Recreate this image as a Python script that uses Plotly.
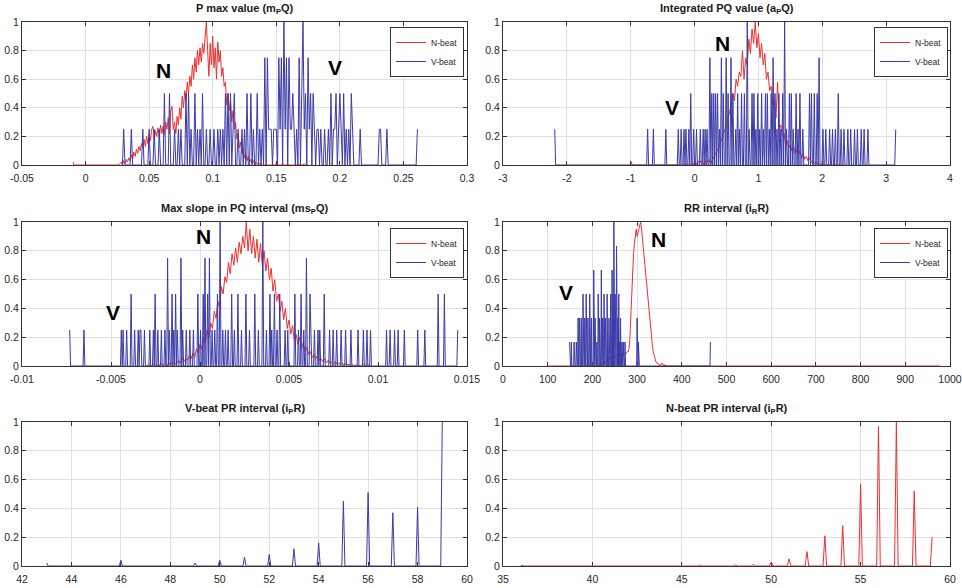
import numpy as np
import plotly.graph_objects as go

# ======================= DATA =======================
# Each histogram is given as (first bin, last bin, bin width) plus the
# non-empty bins. Empty bins are zero.

# ---- Panel 1: P max value (mPQ) ----
PMAX_XTICKS = [-0.05, 0, 0.05, 0.1, 0.15, 0.2, 0.25, 0.3]
PMAX_XLABELS = ["-0.05", "0", "0.05", "0.1", "0.15", "0.2", "0.25", "0.3"]
PMAX_N_BINS = (-0.010, 0.175, 0.001)
PMAX_N_START = 0.027
PMAX_N_VALUES = [
    0.01, 0.02, 0.00, 0.03, 0.01, 0.04, 0.02, 0.05, 0.03, 0.07,
    0.04, 0.09, 0.06, 0.11, 0.08, 0.13, 0.10, 0.15, 0.12, 0.18,
    0.13, 0.20, 0.15, 0.22, 0.17, 0.25, 0.27, 0.18, 0.24, 0.20,
    0.26, 0.19, 0.28, 0.22, 0.27, 0.21, 0.30, 0.25, 0.33, 0.22,
    0.38, 0.41, 0.25, 0.30, 0.22, 0.34, 0.28, 0.40, 0.32, 0.48,
    0.40, 0.52, 0.45, 0.58, 0.50, 0.62, 0.55, 0.70, 0.60, 0.75,
    0.65, 0.80, 0.70, 0.82, 0.72, 0.85, 0.78, 0.92, 1.00, 0.80,
    0.62, 0.85, 0.70, 0.90, 0.68, 0.82, 0.60, 0.86, 0.72, 0.80,
    0.62, 0.68, 0.55, 0.58, 0.42, 0.50, 0.38, 0.45, 0.30, 0.38,
    0.25, 0.30, 0.18, 0.22, 0.12, 0.16, 0.08, 0.12, 0.05, 0.08,
    0.03, 0.06, 0.02, 0.04, 0.01, 0.03, 0.00, 0.02, 0.01, 0.00,
    0.01, 0.00,
]
PMAX_N_EXTRA_X = [-0.010, 0.150, 0.172]
PMAX_N_EXTRA_Y = [0.02, 0.01, 0.01]
PMAX_V_BINS = (0.029, 0.261, 0.001)
PMAX_V_X = [
    0.030, 0.036, 0.045, 0.050, 0.054, 0.058, 0.062, 0.066, 0.070, 0.073,
    0.075, 0.079, 0.081, 0.083, 0.086, 0.088, 0.090, 0.092, 0.095, 0.098,
    0.101, 0.104, 0.106, 0.108, 0.110, 0.112, 0.114, 0.116, 0.117, 0.120,
    0.123, 0.125, 0.127, 0.130, 0.132, 0.135, 0.137, 0.139, 0.141, 0.143,
    0.144, 0.145, 0.146, 0.148, 0.149, 0.150, 0.152, 0.153, 0.154, 0.156,
    0.157, 0.158, 0.160, 0.161, 0.162, 0.163, 0.164, 0.166, 0.168, 0.170,
    0.171, 0.172, 0.173, 0.175, 0.176, 0.177, 0.179, 0.180, 0.182, 0.183,
    0.185, 0.188, 0.191, 0.193, 0.195, 0.196, 0.197, 0.199, 0.200, 0.201,
    0.203, 0.205, 0.207, 0.209, 0.210, 0.216, 0.231, 0.232, 0.237, 0.261,
]
PMAX_V_COUNT = [
    1, 1, 1, 1, 1, 1, 2, 2, 1, 1,
    1, 2, 2, 1, 2, 1, 1, 2, 1, 1,
    1, 1, 1, 1, 2, 2, 2, 1, 2, 1,
    1, 1, 2, 2, 1, 2, 1, 1, 3, 3,
    1, 1, 1, 1, 1, 1, 3, 1, 3, 4,
    1, 3, 3, 1, 1, 2, 1, 1, 3, 2,
    4, 1, 2, 3, 1, 2, 2, 1, 1, 1,
    1, 1, 1, 2, 1, 1, 2, 1, 2, 1,
    2, 1, 1, 2, 1, 1, 1, 1, 1, 1,
]

# ---- Panel 2: Integrated PQ value (aPQ) ----
APQ_XTICKS = [-3, -2, -1, 0, 1, 2, 3, 4]
APQ_XLABELS = ["-3", "-2", "-1", "0", "1", "2", "3", "4"]
APQ_N_BINS = (-1.0, 2.3, 0.025)
APQ_N_START = 0.0
APQ_N_VALUES = [
    0.02, 0.00, 0.03, 0.01, 0.03, 0.02, 0.00, 0.03, 0.02, 0.04,
    0.01, 0.03, 0.05, 0.08, 0.10, 0.12, 0.15, 0.18, 0.22, 0.25,
    0.28, 0.33, 0.38, 0.42, 0.50, 0.45, 0.60, 0.55, 0.65, 0.62,
    0.80, 0.60, 0.75, 0.70, 0.88, 0.78, 0.95, 0.85, 1.00, 0.82,
    0.92, 0.75, 0.85, 0.70, 0.78, 0.60, 0.65, 0.52, 0.55, 0.42,
    0.45, 0.33, 0.58, 0.25, 0.28, 0.20, 0.22, 0.15, 0.17, 0.12,
    0.14, 0.10, 0.13, 0.08, 0.11, 0.07, 0.10, 0.05, 0.08, 0.04,
    0.06, 0.03, 0.05, 0.02, 0.03, 0.01, 0.02, 0.01, 0.01, 0.00,
    0.01,
]
APQ_N_EXTRA_X = [-1.0]
APQ_N_EXTRA_Y = [0.03]
APQ_V_BINS = (-2.19, 3.15, 0.015)
APQ_V_X = [
    -2.186, -0.742, -0.639, -0.457, -0.249, -0.208, -0.171, -0.135, -0.094, -0.057,
    -0.016, 0.036, 0.088, 0.130, 0.166, 0.197, 0.234, 0.265, 0.296, 0.327,
    0.358, 0.389, 0.426, 0.457, 0.493, 0.530, 0.566, 0.607, 0.639, 0.670,
    0.701, 0.737, 0.774, 0.831, 0.862, 0.893, 0.924, 0.955, 0.986, 1.018,
    1.049, 1.080, 1.111, 1.142, 1.173, 1.205, 1.231, 1.262, 1.293, 1.324,
    1.355, 1.386, 1.412, 1.443, 1.480, 1.516, 1.547, 1.584, 1.620, 1.656,
    1.698, 1.802, 1.833, 1.880, 1.916, 1.957, 2.009, 2.061, 2.113, 2.165,
    2.207, 2.243, 2.295, 2.347, 2.399, 2.451, 2.503, 2.555, 2.606, 2.658,
    2.710, 3.152,
]
APQ_V_COUNT = [
    1, 1, 1, 1, 1, 1, 1, 1, 1, 2,
    1, 1, 1, 1, 1, 1, 3, 2, 2, 2,
    2, 1, 3, 2, 3, 2, 3, 2, 1, 2,
    1, 2, 2, 4, 1, 2, 2, 1, 2, 1,
    2, 1, 2, 2, 1, 2, 3, 2, 1, 2,
    1, 2, 4, 1, 2, 2, 1, 2, 1, 2,
    1, 2, 2, 2, 2, 3, 1, 1, 1, 1,
    1, 2, 1, 1, 1, 1, 1, 1, 1, 1,
    1, 1,
]

# ---- Panel 3: Max slope in PQ interval (msPQ) ----
MSPQ_XTICKS = [-0.01, -0.005, 0, 0.005, 0.01, 0.015]
MSPQ_XLABELS = ["-0.01", "-0.005", "0", "0.005", "0.01", "0.015"]
MSPQ_N_BINS = (-0.0031, 0.0096, 0.0001)
MSPQ_N_START = -0.0030
MSPQ_N_VALUES = [
    0.00, 0.01, 0.00, 0.00, 0.01, 0.00, 0.01, 0.00, 0.02, 0.00,
    0.01, 0.02, 0.00, 0.02, 0.01, 0.03, 0.01, 0.02, 0.04, 0.02,
    0.06, 0.03, 0.05, 0.04, 0.07, 0.05, 0.09, 0.06, 0.12, 0.09,
    0.15, 0.12, 0.20, 0.16, 0.25, 0.20, 0.30, 0.26, 0.38, 0.33,
    0.45, 0.40, 0.55, 0.50, 0.62, 0.58, 0.72, 0.64, 0.78, 0.70,
    0.82, 0.72, 0.86, 0.78, 0.90, 0.82, 1.00, 0.80, 0.95, 0.78,
    0.90, 0.75, 0.88, 0.72, 0.85, 0.70, 0.80, 0.66, 0.75, 0.60,
    0.68, 0.52, 0.60, 0.45, 0.50, 0.38, 0.45, 0.32, 0.40, 0.26,
    0.32, 0.22, 0.28, 0.18, 0.22, 0.15, 0.20, 0.12, 0.16, 0.10,
    0.13, 0.08, 0.10, 0.06, 0.08, 0.05, 0.07, 0.04, 0.05, 0.03,
    0.05, 0.02, 0.04, 0.02, 0.03, 0.01, 0.03, 0.01, 0.02, 0.01,
    0.02, 0.00, 0.02, 0.01, 0.01, 0.00, 0.01, 0.00, 0.01, 0.00,
    0.00, 0.00, 0.01, 0.00, 0.01, 0.00,
]
MSPQ_V_BINS = (-0.00732, 0.01449, 0.00005)
MSPQ_V_X = [
    -0.00732, -0.00652, -0.00442, -0.00433, -0.00414, -0.00386, -0.00367, -0.00348, -0.00339, -0.00330,
    -0.00311, -0.00283, -0.00264, -0.00251, -0.00236, -0.00217, -0.00199, -0.00180, -0.00170, -0.00157,
    -0.00146, -0.00139, -0.00127, -0.00105, -0.00096, -0.00077, -0.00058, -0.00039, -0.00011, 0.00004,
    0.00017, 0.00026, 0.00041, 0.00054, 0.00067, 0.00082, 0.00097, 0.00114, 0.00129, 0.00142,
    0.00157, 0.00176, 0.00195, 0.00213, 0.00232, 0.00260, 0.00279, 0.00307, 0.00326, 0.00354,
    0.00373, 0.00391, 0.00404, 0.00419, 0.00434, 0.00448, 0.00476, 0.00494, 0.00532, 0.00551,
    0.00569, 0.00584, 0.00597, 0.00616, 0.00625, 0.00644, 0.00663, 0.00672, 0.00700, 0.00728,
    0.00747, 0.00766, 0.00794, 0.00816, 0.00850, 0.00888, 0.00916, 0.00940, 0.00959, 0.01047,
    0.01066, 0.01094, 0.01112, 0.01150, 0.01225, 0.01262, 0.01337, 0.01375, 0.01449,
]
MSPQ_V_COUNT = [
    1, 1, 1, 1, 1, 2, 1, 1, 1, 1,
    1, 1, 1, 2, 1, 1, 1, 3, 1, 2,
    1, 2, 1, 3, 1, 1, 1, 1, 2, 1,
    2, 3, 2, 3, 1, 1, 2, 4, 1, 1,
    1, 2, 1, 2, 1, 2, 1, 2, 1, 4,
    1, 2, 1, 2, 1, 2, 1, 1, 2, 1,
    2, 1, 3, 2, 1, 1, 1, 1, 2, 1,
    1, 1, 1, 1, 1, 1, 1, 1, 1, 1,
    1, 1, 1, 1, 1, 1, 2, 2, 1,
]

# ---- Panel 4: RR interval (iRR) ----
RR_XTICKS = [0, 100, 200, 300, 400, 500, 600, 700, 800, 900, 1000]
RR_XLABELS = [str(v) for v in RR_XTICKS]
RR_N_BINS = (100, 978, 2)
RR_N_START = 210
RR_N_VALUES = [
    0.00, 0.01, 0.00, 0.01, 0.00, 0.01, 0.02, 0.01, 0.02, 0.03,
    0.02, 0.04, 0.05, 0.04, 0.06, 0.05, 0.06, 0.07, 0.06, 0.07,
    0.06, 0.07, 0.08, 0.07, 0.05, 0.06, 0.08, 0.06, 0.09, 0.07,
    0.08, 0.09, 0.08, 0.09, 0.10, 0.10, 0.12, 0.20, 0.35, 0.55,
    0.70, 0.78, 0.85, 0.93, 0.95, 0.90, 0.92, 0.95, 0.98, 1.00,
    0.95, 0.88, 0.82, 0.75, 0.68, 0.60, 0.52, 0.45, 0.38, 0.32,
    0.26, 0.20, 0.15, 0.10, 0.07, 0.05, 0.03, 0.02, 0.02, 0.01,
    0.01, 0.00, 0.01, 0.02, 0.01, 0.00, 0.01, 0.00, 0.00, 0.00,
    0.00,
]
RR_V_BINS = (149, 464, 1)
RR_V_X = [
    149, 153, 159, 164, 168, 171, 175, 179, 183, 186,
    190, 194, 198, 203, 206, 210, 213, 216, 220, 223,
    226, 229, 233, 237, 241, 244, 246, 248, 251, 254,
    257, 259, 261, 263, 266, 269, 273, 300, 303, 464,
]
RR_V_COUNT = [
    1, 1, 1, 1, 2, 2, 2, 3, 2, 3,
    2, 3, 2, 4, 2, 1, 3, 2, 4, 2,
    3, 2, 3, 2, 3, 4, 3, 6, 3, 5,
    2, 3, 1, 2, 1, 1, 1, 2, 1, 1,
]

# ---- Panel 5: V-beat PR interval (iPR) ----
VPR_XTICKS = [42, 44, 46, 48, 50, 52, 54, 56, 58, 60]
VPR_XLABELS = [str(v) for v in VPR_XTICKS]
VPR_BINS = (43, 59, 0.0625)
VPR_X = [43, 46, 49, 50, 51, 52, 53, 54, 55, 56, 57, 58, 59]
VPR_Y = [0.02, 0.04, 0.02, 0.04, 0.06, 0.08, 0.12, 0.16, 0.45, 0.51, 0.37, 0.41, 1.00]

# ---- Panel 6: N-beat PR interval (iPR) ----
NPR_XTICKS = [35, 40, 45, 50, 55, 60]
NPR_XLABELS = [str(v) for v in NPR_XTICKS]
NPR_BINS = (36, 59, 0.1)
NPR_X = [36, 37, 38, 39, 40, 41, 42, 43, 44, 45, 46, 47,
         48, 49, 50, 51, 52, 53, 54, 55, 56, 57, 58, 59]
NPR_Y = [0.004, 0.002, 0.002, 0.002, 0.002, 0.002, 0.003, 0.003, 0.003, 0.003, 0.006, 0.004,
         0.008, 0.013, 0.028, 0.05, 0.10, 0.21, 0.28, 0.57, 0.97, 1.00, 0.52, 0.20]

YTICKS = [0, 0.2, 0.4, 0.6, 0.8, 1]
YLABELS = ["0", "0.2", "0.4", "0.6", "0.8", "1"]

TITLES = [
    "P max value (m<sub>P</sub>Q)",
    "Integrated PQ value (a<sub>P</sub>Q)",
    "Max slope in PQ interval (ms<sub>P</sub>Q)",
    "RR interval (i<sub>R</sub>R)",
    "V-beat PR interval (i<sub>P</sub>R)",
    "N-beat PR interval (i<sub>P</sub>R)",
]


# ======================= HELPERS =======================
def histogram_line(bins, xs=(), ys=(), start=None, values=()):
    lo, hi, w = bins
    n = int(round((hi - lo) / w)) + 1
    x = lo + w * np.arange(n)
    y = np.zeros(n)
    if start is not None:
        i0 = int(round((start - lo) / w))
        y[i0:i0 + len(values)] = values
    for xv, yv in zip(xs, ys):
        i = int(round((xv - lo) / w))
        y[i] = max(y[i], yv)
    return x, y


def normalized(counts):
    c = np.asarray(counts, dtype=float)
    return c / c.max()


N_COLOR = "#ef2f2f"
V_COLOR = "#3a3aa8"
AX = "#333333"
GRID = "#e0e0e0"
TXT = "#262626"
FONT = "Liberation Sans, Arial, Helvetica, sans-serif"

fig = go.Figure()


def add_line(x, y, k, name, color, legend=None):
    ax = "" if k == 1 else str(k)
    fig.add_trace(go.Scatter(
        x=x, y=y, mode="lines", name=name,
        line=dict(color=color, width=1),
        xaxis="x" + ax, yaxis="y" + ax,
        showlegend=legend is not None,
        legend=legend if legend else "legend",
        hoverinfo="skip",
    ))


# Panel 1
x, y = histogram_line(PMAX_N_BINS, PMAX_N_EXTRA_X, PMAX_N_EXTRA_Y, PMAX_N_START, PMAX_N_VALUES)
add_line(x, y, 1, "N-beat", N_COLOR, "legend")
x, y = histogram_line(PMAX_V_BINS, PMAX_V_X, normalized(PMAX_V_COUNT))
add_line(x, y, 1, "V-beat", V_COLOR, "legend")
# Panel 2
x, y = histogram_line(APQ_N_BINS, APQ_N_EXTRA_X, APQ_N_EXTRA_Y, APQ_N_START, APQ_N_VALUES)
add_line(x, y, 2, "N-beat", N_COLOR, "legend2")
x, y = histogram_line(APQ_V_BINS, APQ_V_X, normalized(APQ_V_COUNT))
add_line(x, y, 2, "V-beat", V_COLOR, "legend2")
# Panel 3
x, y = histogram_line(MSPQ_N_BINS, start=MSPQ_N_START, values=MSPQ_N_VALUES)
add_line(x, y, 3, "N-beat", N_COLOR, "legend3")
x, y = histogram_line(MSPQ_V_BINS, MSPQ_V_X, normalized(MSPQ_V_COUNT))
add_line(x, y, 3, "V-beat", V_COLOR, "legend3")
# Panel 4
x, y = histogram_line(RR_N_BINS, start=RR_N_START, values=RR_N_VALUES)
add_line(x, y, 4, "N-beat", N_COLOR, "legend4")
x, y = histogram_line(RR_V_BINS, RR_V_X, normalized(RR_V_COUNT))
add_line(x, y, 4, "V-beat", V_COLOR, "legend4")
# Panel 5
x, y = histogram_line(VPR_BINS, VPR_X, VPR_Y)
add_line(x, y, 5, "V-beat", V_COLOR)
# Panel 6
x, y = histogram_line(NPR_BINS, NPR_X, NPR_Y)
add_line(x, y, 6, "N-beat", N_COLOR)

# ======================= LAYOUT =======================
W, H = 962, 588
COLS = [(22, 467), (503, 950)]
ROWS = [(22, 165), (222, 366), (422, 566)]
XT = [(PMAX_XTICKS, PMAX_XLABELS), (APQ_XTICKS, APQ_XLABELS), (MSPQ_XTICKS, MSPQ_XLABELS),
      (RR_XTICKS, RR_XLABELS), (VPR_XTICKS, VPR_XLABELS), (NPR_XTICKS, NPR_XLABELS)]

layout = dict(
    width=W, height=H, margin=dict(l=0, r=0, t=0, b=0, autoexpand=False),
    paper_bgcolor="white", plot_bgcolor="white",
    font=dict(family=FONT, color=TXT, size=11),
    annotations=[], showlegend=True,
)

axis_style = dict(
    showline=True, linecolor=AX, linewidth=1, mirror="ticks",
    ticks="inside", ticklen=4, tickcolor=AX, tickwidth=1,
    showgrid=True, gridcolor=GRID, gridwidth=1, zeroline=False,
    tickfont=dict(family=FONT, size=10.5, color=TXT), layer="below traces",
    automargin=False, ticklabeloverflow="allow",
)

for k in range(6):
    r, c = divmod(k, 2)
    ax = "" if k == 0 else str(k + 1)
    x0, x1 = COLS[c]
    y0, y1 = ROWS[r]
    tv, tt = XT[k]
    lo, hi = tv[0], tv[-1]
    eps = (hi - lo) * 1e-6
    layout["xaxis" + ax] = dict(axis_style, domain=[x0 / W, x1 / W], anchor="y" + ax,
                                range=[lo - eps, hi + eps], tickmode="array",
                                tickvals=tv, ticktext=tt, ticklabelstandoff=3)
    layout["yaxis" + ax] = dict(axis_style, domain=[1 - y1 / H, 1 - y0 / H], anchor="x" + ax,
                                range=[-1e-6, 1 + 1e-6], tickmode="array",
                                tickvals=YTICKS, ticktext=YLABELS)
    layout["annotations"].append(dict(
        text="<b>" + TITLES[k] + "</b>", xref="paper", yref="paper",
        x=(x0 + x1) / 2 / W, y=1 - (y0 - 13) / H, xanchor="center", yanchor="middle",
        showarrow=False, font=dict(family=FONT, size=11, color="#1a1a1a"),
    ))

legend_style = dict(xanchor="right", yanchor="top", bgcolor="white",
                    bordercolor=AX, borderwidth=1, tracegroupgap=0,
                    font=dict(family=FONT, size=8.5, color=TXT))
layout["legend"] = dict(legend_style, x=464 / W, y=1 - 27 / H)
layout["legend2"] = dict(legend_style, x=948 / W, y=1 - 27 / H)
layout["legend3"] = dict(legend_style, x=464 / W, y=1 - 228 / H)
layout["legend4"] = dict(legend_style, x=948 / W, y=1 - 228 / H)

# Big class letters
LETTERS = [(1, "N", 0.061, 0.664), (1, "V", 0.196, 0.685),
           (2, "N", 0.44, 0.853), (2, "V", -0.35, 0.405),
           (3, "N", 0.00017, 0.896), (3, "V", -0.0049, 0.375),
           (4, "N", 347, 0.875), (4, "V", 140, 0.507)]
for k, t, lx, ly in LETTERS:
    ax = "" if k == 1 else str(k)
    layout["annotations"].append(dict(
        text="<b>" + t + "</b>", xref="x" + ax, yref="y" + ax, x=lx, y=ly,
        showarrow=False, font=dict(family=FONT, size=21, color="black"),
    ))

fig.update_layout(**layout)
fig.write_html("out.html", config={"displayModeBar": False})
